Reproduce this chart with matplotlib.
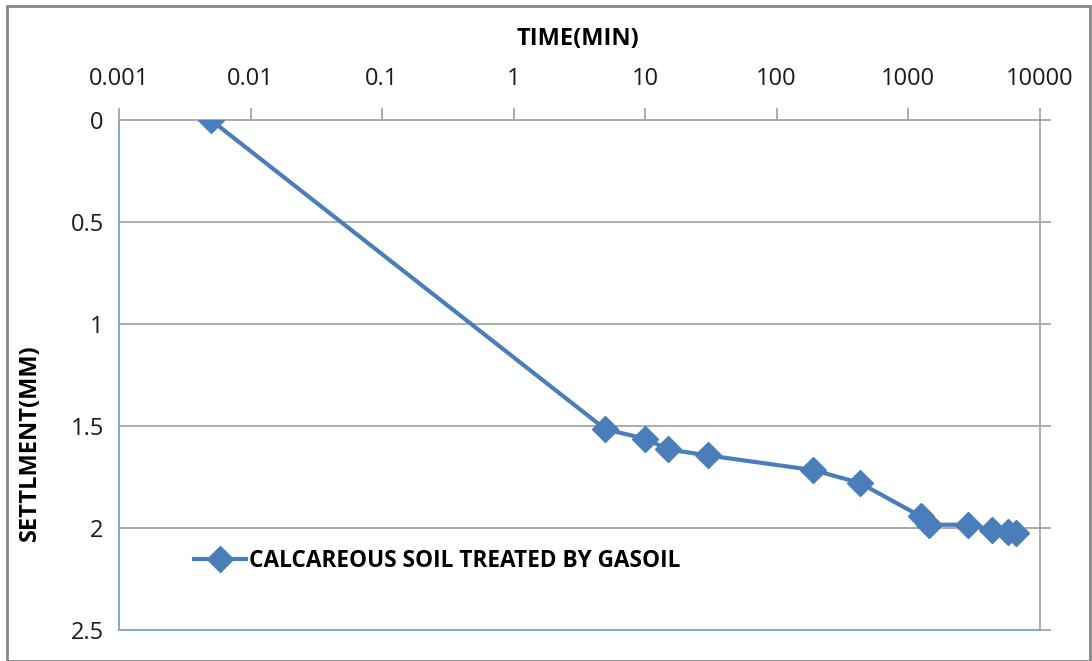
import matplotlib
matplotlib.use("Agg")
import matplotlib.pyplot as plt
from matplotlib.patches import Rectangle

plt.rcParams['font.family'] = ['Open Sans', 'DejaVu Sans']

# Data
time_min = [0.005, 5, 10, 15, 30, 190, 430, 1250, 1440, 2880, 4320, 5760, 6600]
settlement_mm = [0.0, 1.516, 1.562, 1.615, 1.644, 1.716, 1.779, 1.943, 1.984, 1.984, 2.008, 2.021, 2.025]
series_label = "CALCAREOUS SOIL TREATED BY GASOIL"
x_ticks = [0.001, 0.01, 0.1, 1, 10, 100, 1000, 10000]
x_tick_labels = ["0.001", "0.01", "0.1", "1", "10", "100", "1000", "10000"]
y_ticks = [0, 0.5, 1, 1.5, 2, 2.5]
y_tick_labels = ["0", "0.5", "1", "1.5", "2", "2.5"]

W, H = 1092, 661
fig = plt.figure(figsize=(W / 100, H / 100), dpi=100)
fig.patch.set_facecolor('white')

# outer chart border
fig.patches.append(Rectangle((7 / W, 0), (W - 9) / W, 1 - 6 / H, transform=fig.transFigure,
                             fill=False, edgecolor='#888888', linewidth=2))

ax = fig.add_axes([119 / W, 1 - 630 / H, (1039.5 - 119) / W, (630 - 120) / H])
ax.set_xscale('log')
ax.set_xlim(0.001, 10000)
ax.set_ylim(2.5, 0)

line_color = '#4A7EBB'
ax.plot(time_min, settlement_mm, color=line_color, linewidth=3, marker='D',
        markersize=13, markerfacecolor=line_color, markeredgecolor=line_color,
        label=series_label, zorder=3)

# gridlines
for yv in y_ticks[1:-1]:
    ax.axhline(yv, color='#A6A6A6', linewidth=1.3, zorder=1)

# x axis on top
ax.xaxis.set_ticks_position('top')
ax.xaxis.set_label_position('top')
ax.set_xticks(x_ticks)
ax.set_xticklabels(x_tick_labels)
ax.xaxis.set_minor_locator(matplotlib.ticker.NullLocator())
ax.tick_params(axis='x', which='major', direction='out', length=9, width=1.3,
               color='#A6A6A6', labelsize=17, pad=12, labelcolor='#1a1a1a')

# y ticks: labels on left, tick marks on right
ax.set_yticks(y_ticks)
ax.set_yticklabels(y_tick_labels)
ax.tick_params(axis='y', which='major', left=False, right=True, labelleft=True,
               direction='out', length=8, width=1.3, color='#A6A6A6',
               labelsize=17, pad=3, labelcolor='#1a1a1a')

for side in ['left', 'bottom']:
    ax.spines[side].set_color('#7BA0CD')
    ax.spines[side].set_linewidth(1.3)
for side in ['top', 'right']:
    ax.spines[side].set_color('#A6A6A6')
    ax.spines[side].set_linewidth(1.3)

fig.text(578 / W, 1 - 39 / H, "TIME(MIN)", ha='center', va='center',
         fontsize=17, fontweight='bold', color='#000000')
fig.text(30 / W, 1 - 443 / H, "SETTLMENT(MM)", ha='center', va='center',
         rotation=90, fontsize=17, fontweight='bold', color='#000000')

leg = ax.legend(loc='upper left', bbox_to_anchor=(183 / W, 1 - 538 / H),
                bbox_transform=fig.transFigure, frameon=False,
                prop={'size': 16.3, 'weight': 'bold'}, handlelength=2.3,
                handletextpad=0.1, borderpad=0)

fig.savefig('out.png', dpi=100)
